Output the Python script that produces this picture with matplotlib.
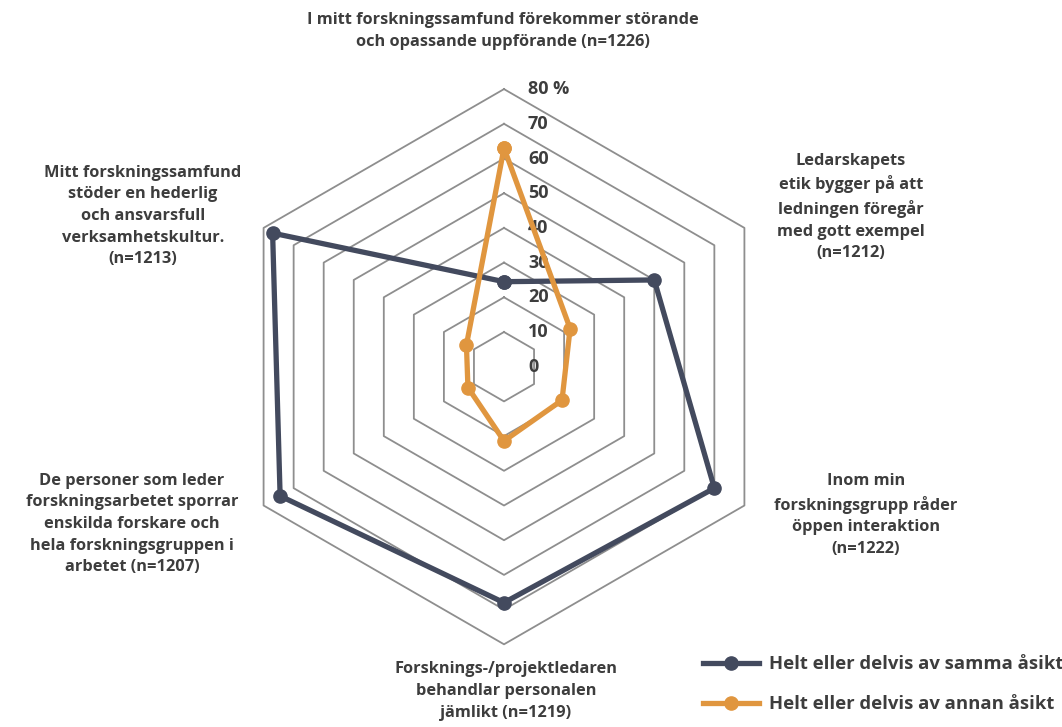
import matplotlib
matplotlib.use("Agg")
import matplotlib.pyplot as plt
import numpy as np

# Data
categories = [
    "I mitt forskningssamfund förekommer störande\noch opassande uppförande (n=1226)",
    "Ledarskapets\netik bygger på att\nledningen föregår\nmed gott exempel\n(n=1212)",
    "Inom min\nforskningsgrupp råder\nöppen interaktion\n(n=1222)",
    "Forsknings-/projektledaren\nbehandlar personalen\njämlikt (n=1219)",
    "De personer som leder\nforskningsarbetet sporrar\nenskilda forskare och\nhela forskningsgruppen i\narbetet (n=1207)",
    "Mitt forskningssamfund\nstöder en hederlig\noch ansvarsfull\nverksamhetskultur.\n(n=1213)",
]
samma = [24.5, 50, 70, 68, 74.5, 77]
annan = [63, 22, 19.3, 21.4, 12, 12.5]
series_names = ["Helt eller delvis av samma åsikt", "Helt eller delvis av annan åsikt"]
ticks = [0, 10, 20, 30, 40, 50, 60, 70, 80]
tick_labels = ["0", "10", "20", "30", "40", "50", "60", "70", "80 %"]

dark = "#434a5e"
orange = "#e0963f"
grid_col = "#8e8e8e"
text_col = "#3d3d3d"

plt.rcParams['font.family'] = ['Open Sans', 'DejaVu Sans']
fs = 11.8

n = len(categories)
ang = np.arange(n) * 2 * np.pi / n


def xy(vals):
    v = np.asarray(vals, dtype=float)
    return v * np.sin(ang), v * np.cos(ang)


fig = plt.figure(figsize=(10.62, 7.27), dpi=100)
ax = fig.add_axes([0, 0, 1, 1])
scale = 3.47  # px per unit
cx, cy = 504, 727 - 366.7
ax.set_xlim(-cx / scale, (1062 - cx) / scale)
ax.set_ylim(-cy / scale, (727 - cy) / scale)
ax.set_aspect('equal')
ax.axis('off')

# hexagonal grid
for t in ticks[1:]:
    gx, gy = xy([t] * n)
    ax.plot(np.append(gx, gx[0]), np.append(gy, gy[0]), color=grid_col, lw=1.3, zorder=1)

for t, lab in zip(ticks, tick_labels):
    ax.text(6.9, t, lab, ha='left', va='center', fontsize=13, fontweight='bold', color=text_col)

for vals, col, name in [(samma, dark, series_names[0]), (annan, orange, series_names[1])]:
    px, py = xy(vals)
    ax.plot(np.append(px, px[0]), np.append(py, py[0]), color=col, lw=3.8,
            marker='o', markersize=9.5, zorder=3, label=name, solid_joinstyle='round')

# category labels (pixel positions from reference)
label_pos = [(503, 31), (851, 207), (866, 515), (506, 691), (132, 524), (143, 216)]
for lab, (lx, ly) in zip(categories, label_pos):
    ax.text((lx - cx) / scale, ((727 - ly) - cy) / scale, lab, ha='center', va='center',
            fontsize=fs, fontweight='bold', color=text_col, linespacing=1.47)

leg = ax.legend(loc='upper left', bbox_to_anchor=(694 / 1062, 1 - 646 / 727),
                bbox_transform=fig.transFigure, frameon=False, fontsize=13.3,
                handlelength=3.0, handletextpad=0.55, labelspacing=1.2, borderpad=0)
for t in leg.get_texts():
    t.set_fontweight('bold')
    t.set_color(text_col)

fig.savefig("out.png", dpi=100)
